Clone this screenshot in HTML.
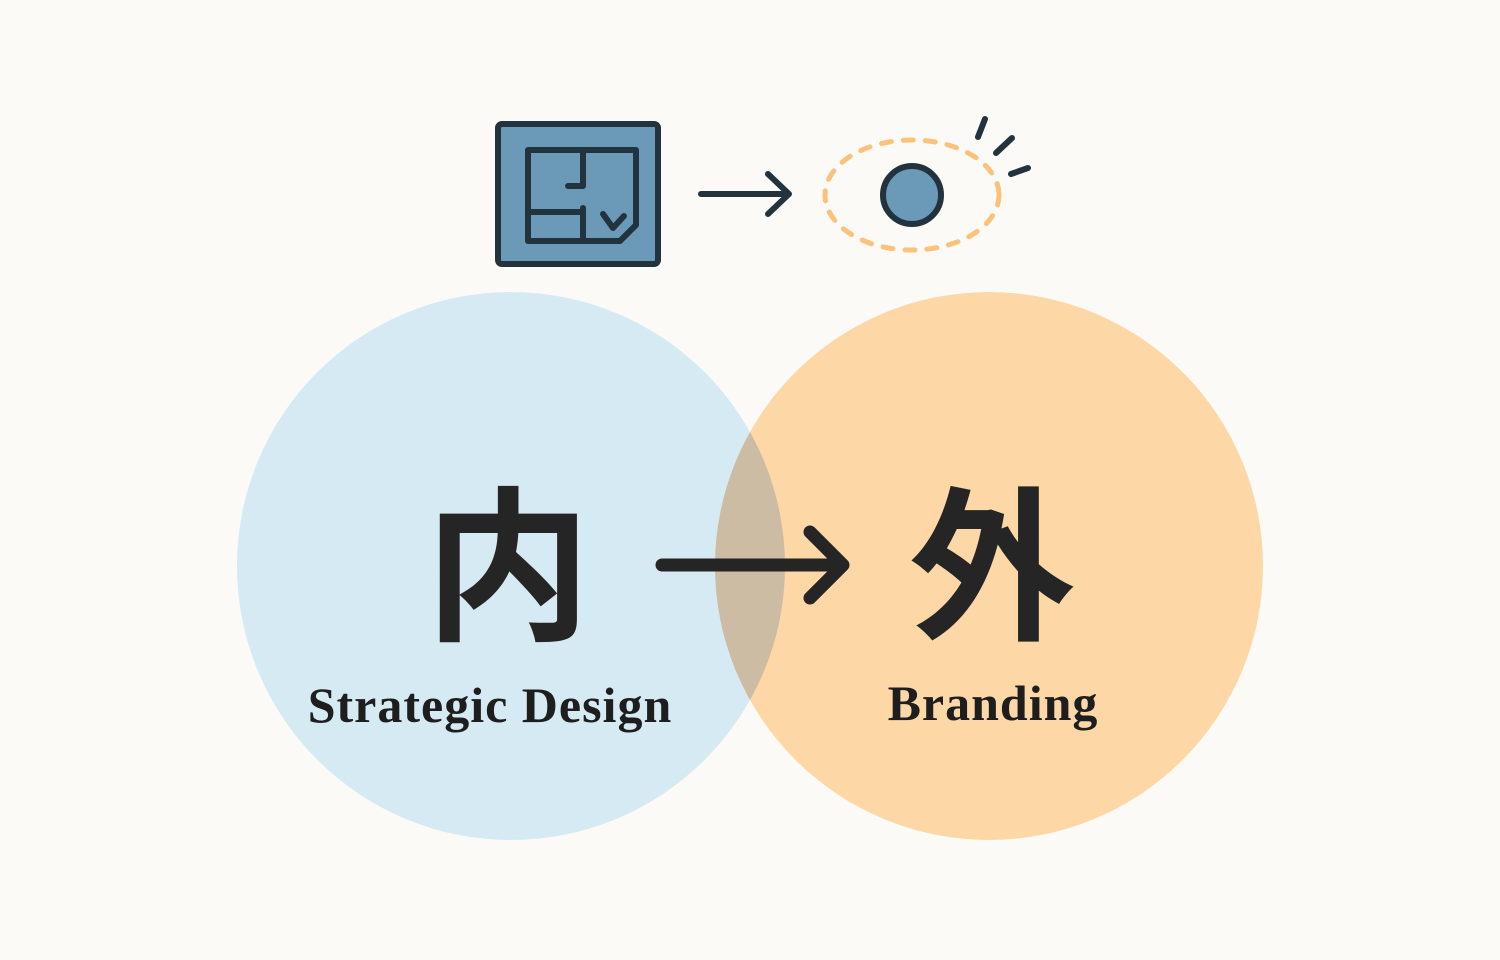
<!DOCTYPE html>
<html><head><meta charset="utf-8"><style>
html,body{margin:0;padding:0;background:#fbfaf6;}
svg{display:block}
</style></head><body>
<svg width="1500" height="960" viewBox="0 0 1500 960" xmlns="http://www.w3.org/2000/svg">
<rect width="1500" height="960" fill="#fbfaf6"/>
<circle cx="511" cy="566" r="274" fill="#d6eaf3"/>
<circle cx="989" cy="566" r="274" fill="#fdd8a6"/>
<clipPath id="c"><circle cx="511" cy="566" r="274"/></clipPath>
<circle cx="989" cy="566" r="274" fill="#cdbca4" clip-path="url(#c)"/>
<rect x="498" y="124" width="160" height="140" rx="4" fill="#6a9ab8" stroke="#23333d" stroke-width="6"/>
<path d="M528 150 H636 V225 L620 241 H528 Z" fill="none" stroke="#23333d" stroke-width="6" stroke-linejoin="round"/>
<path d="M583 150 V186 H568 M583 208 V241 M528 212 H583 M603 214 L613 228 L624 216" fill="none" stroke="#23333d" stroke-width="6" stroke-linecap="round" stroke-linejoin="round"/>
<path d="M701 194 H789 M768 174 L789 194 L768 214" fill="none" stroke="#23333d" stroke-width="6" stroke-linecap="round" stroke-linejoin="round"/>
<ellipse cx="912" cy="195" rx="87" ry="55" fill="none" stroke="#fbc27a" stroke-width="5" stroke-dasharray="10 12" stroke-linecap="round"/>
<circle cx="912" cy="195" r="29" fill="#6a9ab8" stroke="#23333d" stroke-width="6"/>
<path d="M978 137 L985 119 M996 153 L1012 138 M1011 174 L1028 168" stroke="#23333d" stroke-width="6" stroke-linecap="round"/>
<path d="M662 565 H842 M810 532 L843 565 L810 598" fill="none" stroke="#252525" stroke-width="13" stroke-linecap="round" stroke-linejoin="round"/>
<text x="508" y="627" font-family="'Noto Sans CJK JP','Noto Sans CJK SC',sans-serif" font-weight="bold" font-size="166" fill="#252525" text-anchor="middle">内</text>
<text x="992" y="627" font-family="'Noto Sans CJK JP','Noto Sans CJK SC',sans-serif" font-weight="bold" font-size="166" fill="#252525" text-anchor="middle">外</text>
<text x="490" y="722" font-family="'Liberation Serif',serif" font-weight="bold" font-size="50" letter-spacing="1" fill="#1e1e1e" text-anchor="middle">Strategic Design</text>
<text x="993" y="720" font-family="'Liberation Serif',serif" font-weight="bold" font-size="50" letter-spacing="1" fill="#1e1e1e" text-anchor="middle">Branding</text>
</svg>
</body></html>
